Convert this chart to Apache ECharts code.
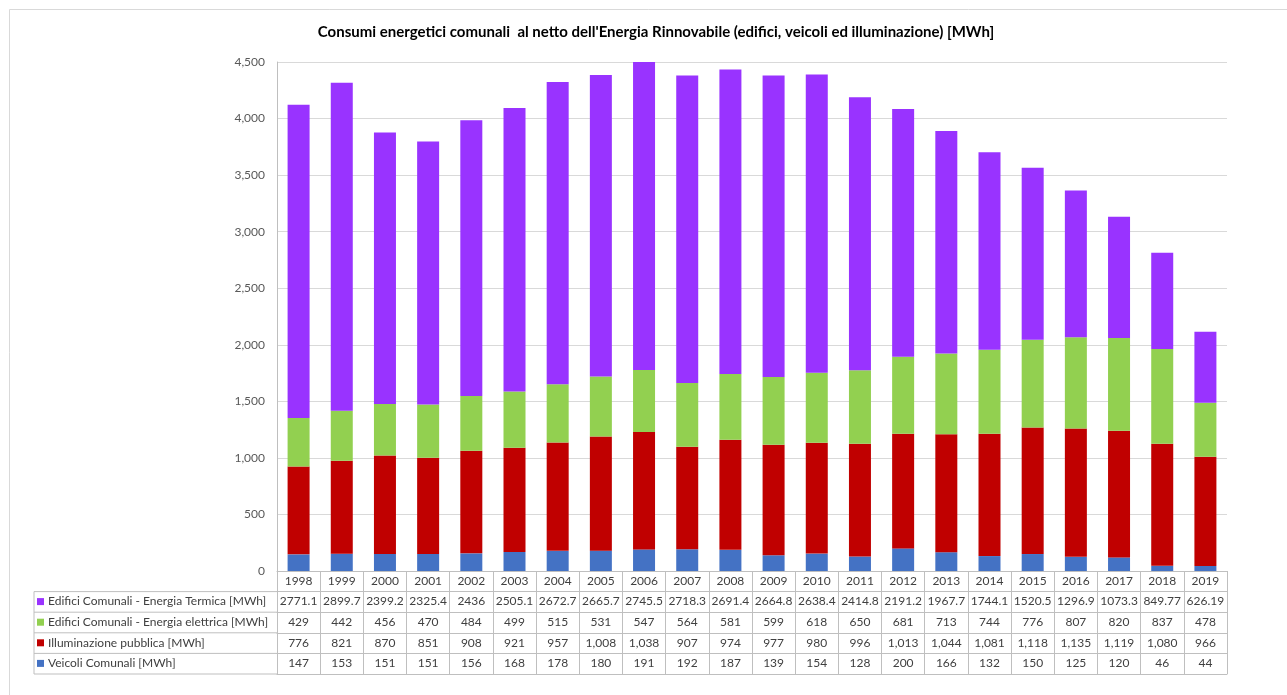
<!DOCTYPE html>
<html><head><meta charset="utf-8">
<script src="https://cdn.jsdelivr.net/npm/echarts@6/dist/echarts.min.js"></script>
<style>html,body{margin:0;padding:0;background:#fff}#c{width:1287px;height:695px}</style>
</head><body><div id="c"></div>
<script>
const years = ['1998','1999','2000','2001','2002','2003','2004','2005','2006','2007','2008','2009','2010','2011','2012','2013','2014','2015','2016','2017','2018','2019'];
const termica = [2771.1,2899.7,2399.2,2325.4,2436,2505.1,2672.7,2665.7,2745.5,2718.3,2691.4,2664.8,2638.4,2414.8,2191.2,1967.7,1744.1,1520.5,1296.9,1073.3,849.77,626.19];
const elettrica = [429,442,456,470,484,499,515,531,547,564,581,599,618,650,681,713,744,776,807,820,837,478];
const illuminazione = [776,821,870,851,908,921,957,1008,1038,907,974,977,980,996,1013,1044,1081,1118,1135,1119,1080,966];
const veicoli = [147,153,151,151,156,168,178,180,191,192,187,139,154,128,200,166,132,150,125,120,46,44];

const nTermica = 'Edifici Comunali - Energia Termica [MWh]';
const nElettrica = 'Edifici Comunali - Energia elettrica [MWh]';
const nIllum = 'Illuminazione pubblica [MWh]';
const nVeicoli = 'Veicoli Comunali [MWh]';

const cTermica = '#9933FF', cElettrica = '#92D050', cIllum = '#C00000', cVeicoli = '#4472C4';

// layout constants
const GL = 277, GR = 1227, GT = 62, GB = 571, TL = 34, RH = 20.6;
const FONT = 'Lato';
const lineC = '#BFBFBF';
const txtC = '#404040';

const fmtComma = v => Number(v).toLocaleString('en-US');
const fmtRaw = v => String(v);

// table rows (top to bottom)
const rows = [
  {name: nTermica, data: termica, fmt: fmtRaw},
  {name: nElettrica, data: elettrica, fmt: fmtRaw},
  {name: nIllum, data: illuminazione, fmt: fmtComma},
  {name: nVeicoli, data: veicoli, fmt: fmtRaw}
];

const xAxes = [{
  type: 'category', data: years, gridIndex: 0, position: 'bottom', offset: 0,
  axisLine: {show: true, lineStyle: {color: lineC, width: 1}},
  axisTick: {show: true, interval: 0, length: RH * 5, lineStyle: {color: lineC}},
  axisLabel: {interval: 0, margin: 4, fontFamily: FONT, fontSize: 12, color: txtC},
  splitLine: {show: false}
}];
rows.forEach((r, k) => {
  xAxes.push({
    type: 'category', data: years, gridIndex: 0, position: 'bottom', offset: RH * (k + 1),
    axisLine: {show: true, lineStyle: {color: lineC, width: 1}},
    axisTick: {show: false},
    axisLabel: {interval: 0, margin: 4, fontFamily: FONT, fontSize: 12, color: txtC,
      formatter: (v, i) => r.fmt(r.data[i])},
    splitLine: {show: false}
  });
});
xAxes.push({
  type: 'category', data: years, gridIndex: 0, position: 'bottom', offset: RH * 5,
  axisLine: {show: true, lineStyle: {color: lineC, width: 1}},
  axisTick: {show: false}, axisLabel: {show: false}, splitLine: {show: false}
});

const legends = rows.map((r, k) => ({
  data: [r.name], left: TL + 3, top: GB + RH * (k + 1) + 4,
  itemWidth: 7, itemHeight: 7, itemGap: 0, icon: 'rect', selectedMode: false,
  padding: 0,
  textStyle: {fontFamily: FONT, fontSize: 12, color: txtC, padding: [0, 0, 0, -1]}
}));

const graphics = [
  {type: 'rect', shape: {x: 9.5, y: 9.5, width: 1400, height: 800}, style: {fill: 'none', stroke: '#D9D9D9', lineWidth: 1}, silent: true, z: -1}
];
for (let k = 1; k <= 5; k++) {
  graphics.push({type: 'line', shape: {x1: TL, y1: GB + RH * k, x2: GL, y2: GB + RH * k}, style: {stroke: lineC, lineWidth: 1}, silent: true});
}
graphics.push({type: 'line', shape: {x1: TL, y1: GB + RH, x2: TL, y2: GB + RH * 5}, style: {stroke: lineC, lineWidth: 1}, silent: true});

const mk = (name, data, color) => ({
  name, type: 'bar', stack: 'tot', data, barWidth: 22,
  itemStyle: {color}, xAxisIndex: 0, yAxisIndex: 0
});

const option = {
  animation: false,
  backgroundColor: '#fff',
  title: {
    text: "Consumi energetici comunali  al netto dell'Energia Rinnovabile (edifici, veicoli ed illuminazione) [MWh]",
    left: 651, top: 20, textAlign: 'center',
    textStyle: {fontFamily: FONT, fontSize: 15, fontWeight: 'bold', color: '#000'}
  },
  legend: legends,
  grid: {left: GL, right: 1287 - GR, top: GT, bottom: 695 - GB, containLabel: false},
  xAxis: xAxes,
  yAxis: {
    type: 'value', min: 0, max: 4500, interval: 500,
    axisLine: {show: true, lineStyle: {color: lineC}},
    axisTick: {show: false},
    axisLabel: {margin: 12, fontFamily: FONT, fontSize: 12, color: '#595959', formatter: v => fmtComma(v)},
    splitLine: {show: true, lineStyle: {color: '#D9D9D9', width: 1}}
  },
  graphic: graphics,
  series: [
    mk(nVeicoli, veicoli, cVeicoli),
    mk(nIllum, illuminazione, cIllum),
    mk(nElettrica, elettrica, cElettrica),
    mk(nTermica, termica, cTermica)
  ]
};
const chart = echarts.init(document.getElementById('c'));
chart.setOption(option);
</script></body></html>
